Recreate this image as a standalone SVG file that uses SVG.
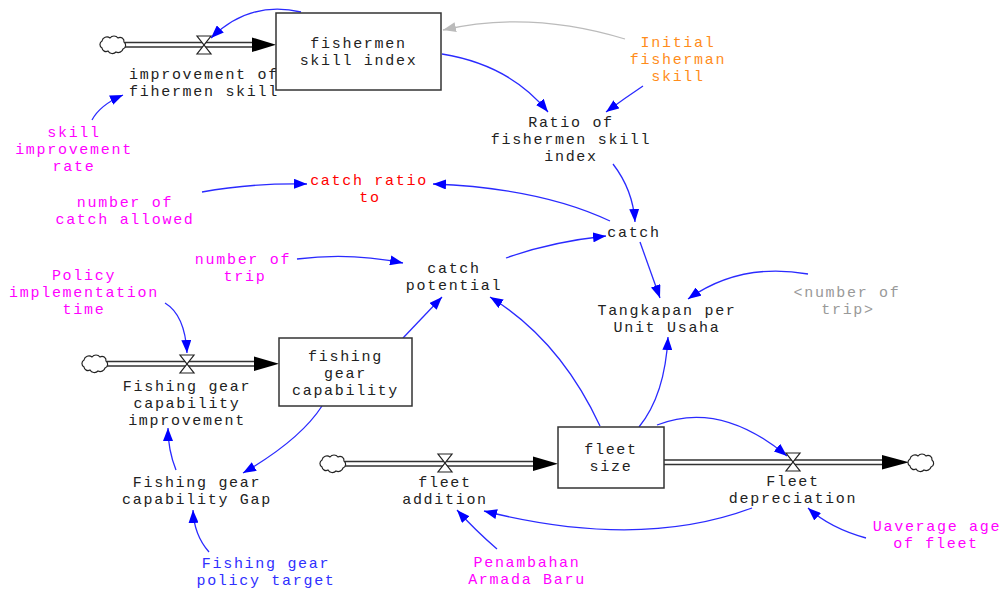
<svg xmlns="http://www.w3.org/2000/svg" width="1005" height="590" viewBox="0 0 1005 590">
<style>
.t{font-family:"Liberation Mono","Courier New",monospace;font-size:15px;letter-spacing:1.7px;text-anchor:middle}
.k{fill:#222}
.m{fill:#ff00ff}
.r{fill:#ff0000}
.o{fill:#ff8c1a}
.g{fill:#999}
.b{fill:#3030ff}
.stock{fill:#fff;stroke:#333;stroke-width:1.5}
.pipe{stroke:#333;stroke-width:1.3;fill:none}
.valve{fill:#fff;stroke:#222;stroke-width:1.2}
.cloud{fill:#fff;stroke:#222;stroke-width:1.2}
.c{fill:none;stroke:#2a2aff;stroke-width:1.3;marker-end:url(#ab)}
.cg{fill:none;stroke:#bbb;stroke-width:1.3;marker-end:url(#ag)}
</style>
<defs>
<marker id="ab" markerUnits="userSpaceOnUse" viewBox="0 0 13 10" refX="13" refY="5" markerWidth="13" markerHeight="10" orient="auto"><path d="M0,0 L13,5 L0,10 Z" fill="#0000ff"/></marker>
<marker id="ag" markerUnits="userSpaceOnUse" viewBox="0 0 13 10" refX="13" refY="5" markerWidth="13" markerHeight="10" orient="auto"><path d="M0,0 L13,5 L0,10 Z" fill="#bbb"/></marker>
<path id="cloudp" d="M-11,4 a4,4 0 0 1 0,-7 a5,5 0 0 1 8,-3 a5,5 0 0 1 8,0 a4,4 0 0 1 6,4 a4,4 0 0 1 -1,7 a5,5 0 0 1 -7,3 a5,5 0 0 1 -8,-1 a4,4 0 0 1 -6,-3 z"/>
<path id="valvep" d="M-7,-9 L7,-9 L-7,9 L7,9 Z"/>
</defs>
<rect width="1005" height="590" fill="#fff"/>

<g id="connectors">
<path class="c" d="M301,12 Q250,0 211,38"/>
<path class="cg" d="M625,39 Q530,10 443,30"/>
<path class="c" d="M442,54 Q510,65 548,112"/>
<path class="c" d="M643,86 Q625,98 606,112"/>
<path class="c" d="M613,164 Q633,190 635,222"/>
<path class="c" d="M610,221 Q540,188 433,184"/>
<path class="c" d="M202,192 Q250,183 307,184"/>
<path class="c" d="M506,258 Q550,242 606,236"/>
<path class="c" d="M297,259 Q350,252 403,263"/>
<path class="c" d="M640,242 Q650,270 660,298"/>
<path class="c" d="M808,274 Q740,262 688,299"/>
<path class="c" d="M639,427 Q665,395 668,337"/>
<path class="c" d="M600,426 Q560,340 490,297"/>
<path class="c" d="M403,338 Q422,318 442,297"/>
<path class="c" d="M165,303 Q185,315 187,353"/>
<path class="c" d="M322,406 Q300,440 243,473"/>
<path class="c" d="M176,470 Q168,450 168,428"/>
<path class="c" d="M209,552 Q194,535 193,510"/>
<path class="c" d="M497,549 Q475,530 457,510"/>
<path class="c" d="M752,508 Q640,550 484,511"/>
<path class="c" d="M657,425 Q720,400 787,456"/>
<path class="c" d="M866,538 Q830,528 808,508"/>
<path class="c" d="M92,120 Q100,105 123,95"/>
</g>

<g id="flow-improvement-skill">
<use href="#cloudp" class="cloud" x="113" y="44"/>
<path class="pipe" d="M125,42.5 H254 M125,47 H254"/>
<polygon points="252,37.5 276,44.75 252,52" fill="#000"/>
<use href="#valvep" class="valve" x="204" y="45"/>
<text class="t k"><tspan x="204" y="79">improvement of</tspan><tspan x="204" y="96">fihermen skill</tspan></text>
</g>

<g id="stock-fishermen-skill">
<rect class="stock" x="276" y="13" width="165" height="77"/>
<text class="t k"><tspan x="358.5" y="48">fishermen</tspan><tspan x="358.5" y="65">skill index</tspan></text>
</g>

<g id="initial-fisherman-skill"><text class="t o"><tspan x="678" y="47">Initial</tspan><tspan x="678" y="64">fisherman</tspan><tspan x="678" y="81">skill</tspan></text></g>
<g id="ratio"><text class="t k"><tspan x="571" y="127">Ratio of</tspan><tspan x="571" y="144">fishermen skill</tspan><tspan x="571" y="161">index</tspan></text></g>
<g id="skill-improvement-rate"><text class="t m"><tspan x="74" y="137">skill</tspan><tspan x="74" y="154">improvement</tspan><tspan x="74" y="171">rate</tspan></text></g>
<g id="number-catch-allowed"><text class="t m"><tspan x="125" y="207">number of</tspan><tspan x="125" y="224">catch allowed</tspan></text></g>
<g id="catch-ratio-to"><text class="t r"><tspan x="369" y="185">catch ratio</tspan><tspan x="370" y="202">to</tspan></text></g>
<g id="catch"><text class="t k" x="634" y="237">catch</text></g>
<g id="number-of-trip"><text class="t m"><tspan x="243" y="264">number of</tspan><tspan x="245" y="281">trip</tspan></text></g>
<g id="catch-potential"><text class="t k"><tspan x="454" y="273">catch</tspan><tspan x="454" y="290">potential</tspan></text></g>
<g id="tangkapan"><text class="t k"><tspan x="667" y="315">Tangkapan per</tspan><tspan x="667" y="332">Unit Usaha</tspan></text></g>
<g id="number-of-trip-shadow"><text class="t g"><tspan x="847" y="297">&lt;number of</tspan><tspan x="848" y="314">trip&gt;</tspan></text></g>
<g id="policy-time"><text class="t m"><tspan x="84" y="280">Policy</tspan><tspan x="84" y="297">implementation</tspan><tspan x="84" y="314">time</tspan></text></g>

<g id="flow-fishing-gear-improvement">
<use href="#cloudp" class="cloud" x="95" y="363"/>
<path class="pipe" d="M107,361.5 H256 M107,366 H256"/>
<polygon points="254,356.5 279,363.75 254,371" fill="#000"/>
<use href="#valvep" class="valve" x="187" y="364"/>
<text class="t k"><tspan x="187" y="391">Fishing gear</tspan><tspan x="187" y="408">capability</tspan><tspan x="187" y="425">improvement</tspan></text>
</g>

<g id="stock-fishing-gear">
<rect class="stock" x="279" y="338" width="133" height="68"/>
<text class="t k"><tspan x="345.5" y="361">fishing</tspan><tspan x="345.5" y="378">gear</tspan><tspan x="345.5" y="395">capability</tspan></text>
</g>

<g id="gap"><text class="t k"><tspan x="197" y="487">Fishing gear</tspan><tspan x="197" y="504">capability Gap</tspan></text></g>
<g id="policy-target"><text class="t b"><tspan x="266" y="568">Fishing gear</tspan><tspan x="266" y="585">policy target</tspan></text></g>

<g id="flow-fleet-addition">
<use href="#cloudp" class="cloud" x="333" y="463"/>
<path class="pipe" d="M345,461.5 H535 M345,466 H535"/>
<polygon points="533,456.5 558,463.75 533,471" fill="#000"/>
<use href="#valvep" class="valve" x="445" y="463"/>
<text class="t k"><tspan x="445" y="487">fleet</tspan><tspan x="445" y="504">addition</tspan></text>
</g>

<g id="stock-fleet-size">
<rect class="stock" x="558" y="427" width="106" height="61"/>
<text class="t k"><tspan x="611" y="454">fleet</tspan><tspan x="611" y="471">size</tspan></text>
</g>

<g id="flow-fleet-depreciation">
<path class="pipe" d="M664,460 H884 M664,464.5 H884"/>
<polygon points="882,455 909,462.25 882,469.5" fill="#000"/>
<use href="#cloudp" class="cloud" x="921" y="462"/>
<use href="#valvep" class="valve" x="793" y="462"/>
<text class="t k"><tspan x="793" y="486">Fleet</tspan><tspan x="793" y="503">depreciation</tspan></text>
</g>

<g id="penambahan"><text class="t m"><tspan x="527" y="567">Penambahan</tspan><tspan x="527" y="584">Armada Baru</tspan></text></g>
<g id="average-age"><text class="t m"><tspan x="937" y="531">Uaverage age</tspan><tspan x="936" y="548">of fleet</tspan></text></g>
</svg>
